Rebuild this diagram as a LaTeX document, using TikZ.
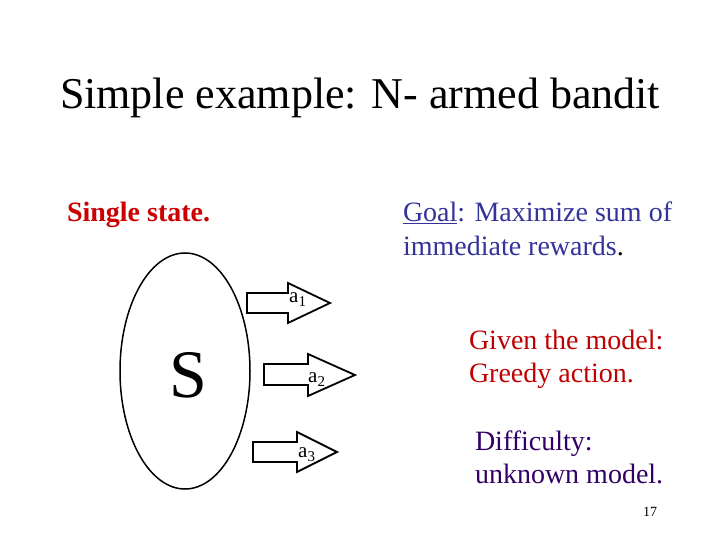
\documentclass[tikz,border=0pt]{standalone}
\usepackage{fontspec}
\setmainfont{Liberation Serif}
\usetikzlibrary{calc}
\definecolor{goalblue}{RGB}{51,51,153}
\definecolor{slidered}{RGB}{204,0,0}
\definecolor{darkred}{RGB}{192,0,0}
\definecolor{darkpurple}{RGB}{51,0,102}
\newcommand{\sub}[1]{\raisebox{-4pt}{\fontsize{15}{15}\selectfont #1}}
\tikzset{
  txt/.style={inner sep=0pt, outer sep=0pt, anchor=base west, align=left},
  blk/.style={draw=black, line width=1.8pt, fill=white, line join=miter},
  albl/.style={inner sep=0pt, anchor=base west, font=\fontsize{21}{21}\selectfont}
}
\begin{document}
\begin{tikzpicture}[x=1pt,y=-1pt]
\useasboundingbox[fill=white] (0,0) rectangle (720,540);
% title
\node[inner sep=0pt, anchor=base, font=\fontsize{44}{52}\selectfont] (title) at (360,109) {Simple example: N- armed bandit};
% left heading
\node[txt, text=slidered, font=\fontsize{28}{32}\selectfont\bfseries] (single) at (67,222) {Single state.};
% goal
\node[txt, text=goalblue, font=\fontsize{28}{33}\selectfont] (goal) at (403,222) {\underline{Goal}: Maximize sum of};
\node[txt, text=goalblue, font=\fontsize{28}{33}\selectfont] (goal2) at (403,255) {immediate rewards\textcolor{black}{.}};
% state ellipse
\draw[line width=1.5pt] (185,371) ellipse [x radius=65, y radius=118];
\node[inner sep=0pt, anchor=base, font=\fontsize{68}{68}\selectfont] (S) at (188,397) {S};
% arrows
\draw[blk] (247,293) -- (288,293) -- (288,283) -- (330,303) -- (288,323) -- (288,313) -- (247,313) -- cycle;
\draw[blk] (264,364) -- (308,364) -- (308,354) -- (355,375) -- (308,396) -- (308,385) -- (264,385) -- cycle;
\draw[blk] (253,442) -- (297,442) -- (297,432) -- (337,452) -- (297,472) -- (297,462) -- (253,462) -- cycle;
\node[albl] (a1) at (289,302) {a\sub{1}};
\node[albl] (a2) at (308,382) {a\sub{2}};
\node[albl] (a3) at (298,457) {a\sub{3}};
% right texts
\node[txt, text=darkred, font=\fontsize{28}{33}\selectfont] (given) at (469,349) {Given the model:};
\node[txt, text=darkred, font=\fontsize{28}{33}\selectfont] (greedy) at (469,382) {Greedy action.};
\node[txt, text=darkpurple, font=\fontsize{28}{33}\selectfont] (diff) at (475,450) {Difficulty:};
\node[txt, text=darkpurple, font=\fontsize{28}{33}\selectfont] (unk) at (475,483) {unknown model.};
% page number
\node[txt, font=\fontsize{14}{14}\selectfont] (page) at (643,516) {17};
\end{tikzpicture}
\end{document}
